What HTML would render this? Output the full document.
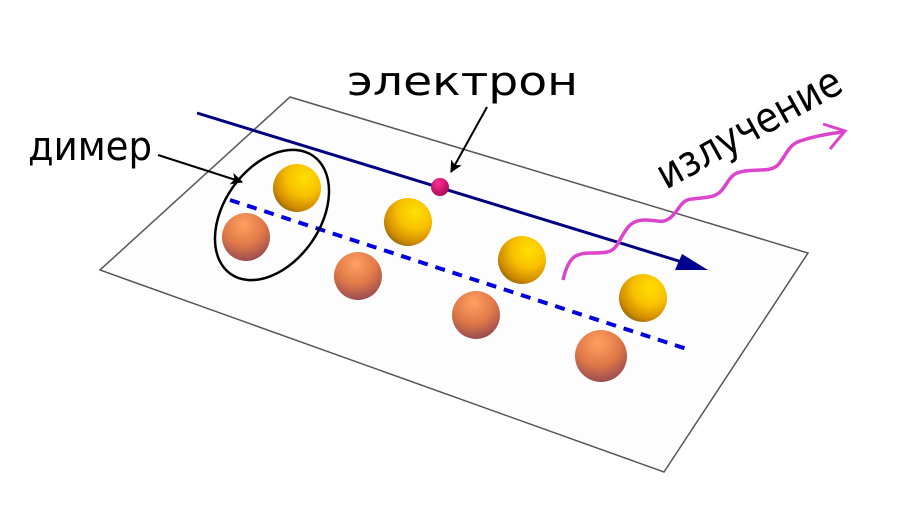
<!DOCTYPE html>
<html><head><meta charset="utf-8"><style>html,body{margin:0;padding:0;background:#fff}svg{display:block}</style></head>
<body>
<svg width="899" height="526" viewBox="0 0 899 526" xmlns="http://www.w3.org/2000/svg">
<defs>
<radialGradient id="y" cx="0.65" cy="0.3" r="0.8">
<stop offset="0" stop-color="#ffe000"/><stop offset="0.45" stop-color="#f8c000"/><stop offset="0.8" stop-color="#d08a00"/><stop offset="1" stop-color="#806010"/></radialGradient>
<radialGradient id="o" cx="0.45" cy="0.25" r="0.85">
<stop offset="0" stop-color="#ffa060"/><stop offset="0.5" stop-color="#e07848"/><stop offset="0.85" stop-color="#a05050"/><stop offset="1" stop-color="#603040"/></radialGradient>
<radialGradient id="p" cx="0.4" cy="0.3" r="0.8"><stop offset="0" stop-color="#ff3090"/><stop offset="1" stop-color="#a00050"/></radialGradient>
<marker id="a" markerWidth="12" markerHeight="12" refX="11" refY="6" orient="auto" markerUnits="userSpaceOnUse"><path d="M0,0 L12,6 L0,12 L3,6 Z" fill="#000"/></marker>
</defs>
<polygon points="290,97 808,253 664,472 100,270" fill="#fdfdfd" stroke="#555" stroke-width="1.5"/>
<line x1="230" y1="200" x2="690" y2="350" stroke="#0000dd" stroke-width="4" stroke-dasharray="10,8"/>
<line x1="197" y1="113" x2="682" y2="262" stroke="#000080" stroke-width="3"/>
<polygon points="708,270 675,270 682,254" fill="#000090"/>
<circle cx="297" cy="188" r="24" fill="url(#y)"/>
<circle cx="408" cy="222" r="24" fill="url(#y)"/>
<circle cx="522" cy="260" r="24" fill="url(#y)"/>
<circle cx="643" cy="298" r="24" fill="url(#y)"/>
<circle cx="246" cy="237" r="24" fill="url(#o)"/>
<circle cx="358" cy="276" r="24" fill="url(#o)"/>
<circle cx="476" cy="315" r="24" fill="url(#o)"/>
<circle cx="601" cy="356" r="26" fill="url(#o)"/>
<circle cx="440" cy="187" r="9" fill="url(#p)"/>
<ellipse cx="272" cy="215" rx="72" ry="48" transform="rotate(-55 272 215)" fill="none" stroke="#000" stroke-width="2.5"/>
<path d="M563,280 C568,258 575,253 590,253 C605,253 612,253 617,245 C625,232 628,220 645,220 C658,220 662,224 670,218 C680,210 680,200 692,199 C708,197 715,198 722,190 C730,180 730,173 745,171 C760,169 770,172 778,165 C786,156 788,145 800,141 C812,137 825,134 843,132" fill="none" stroke="#dd44cc" stroke-width="3.5"/>
<path d="M823,124 L845,131 L830,149" fill="none" stroke="#dd44cc" stroke-width="3"/>
<line x1="158" y1="155" x2="242" y2="182" stroke="#000" stroke-width="2" marker-end="url(#a)"/>
<line x1="487" y1="107" x2="451" y2="172" stroke="#000" stroke-width="2" marker-end="url(#a)"/>
<text x="347" y="95" font-family="DejaVu Sans, sans-serif" font-size="40" textLength="231" lengthAdjust="spacingAndGlyphs">электрон</text>
<text x="28" y="160" font-family="DejaVu Sans, sans-serif" font-size="40" textLength="124" lengthAdjust="spacingAndGlyphs">димер</text>
<text x="0" y="0" transform="translate(666,190) rotate(-29)" font-family="DejaVu Sans, sans-serif" font-size="42" textLength="205" lengthAdjust="spacingAndGlyphs">излучение</text>
</svg>
</body></html>
